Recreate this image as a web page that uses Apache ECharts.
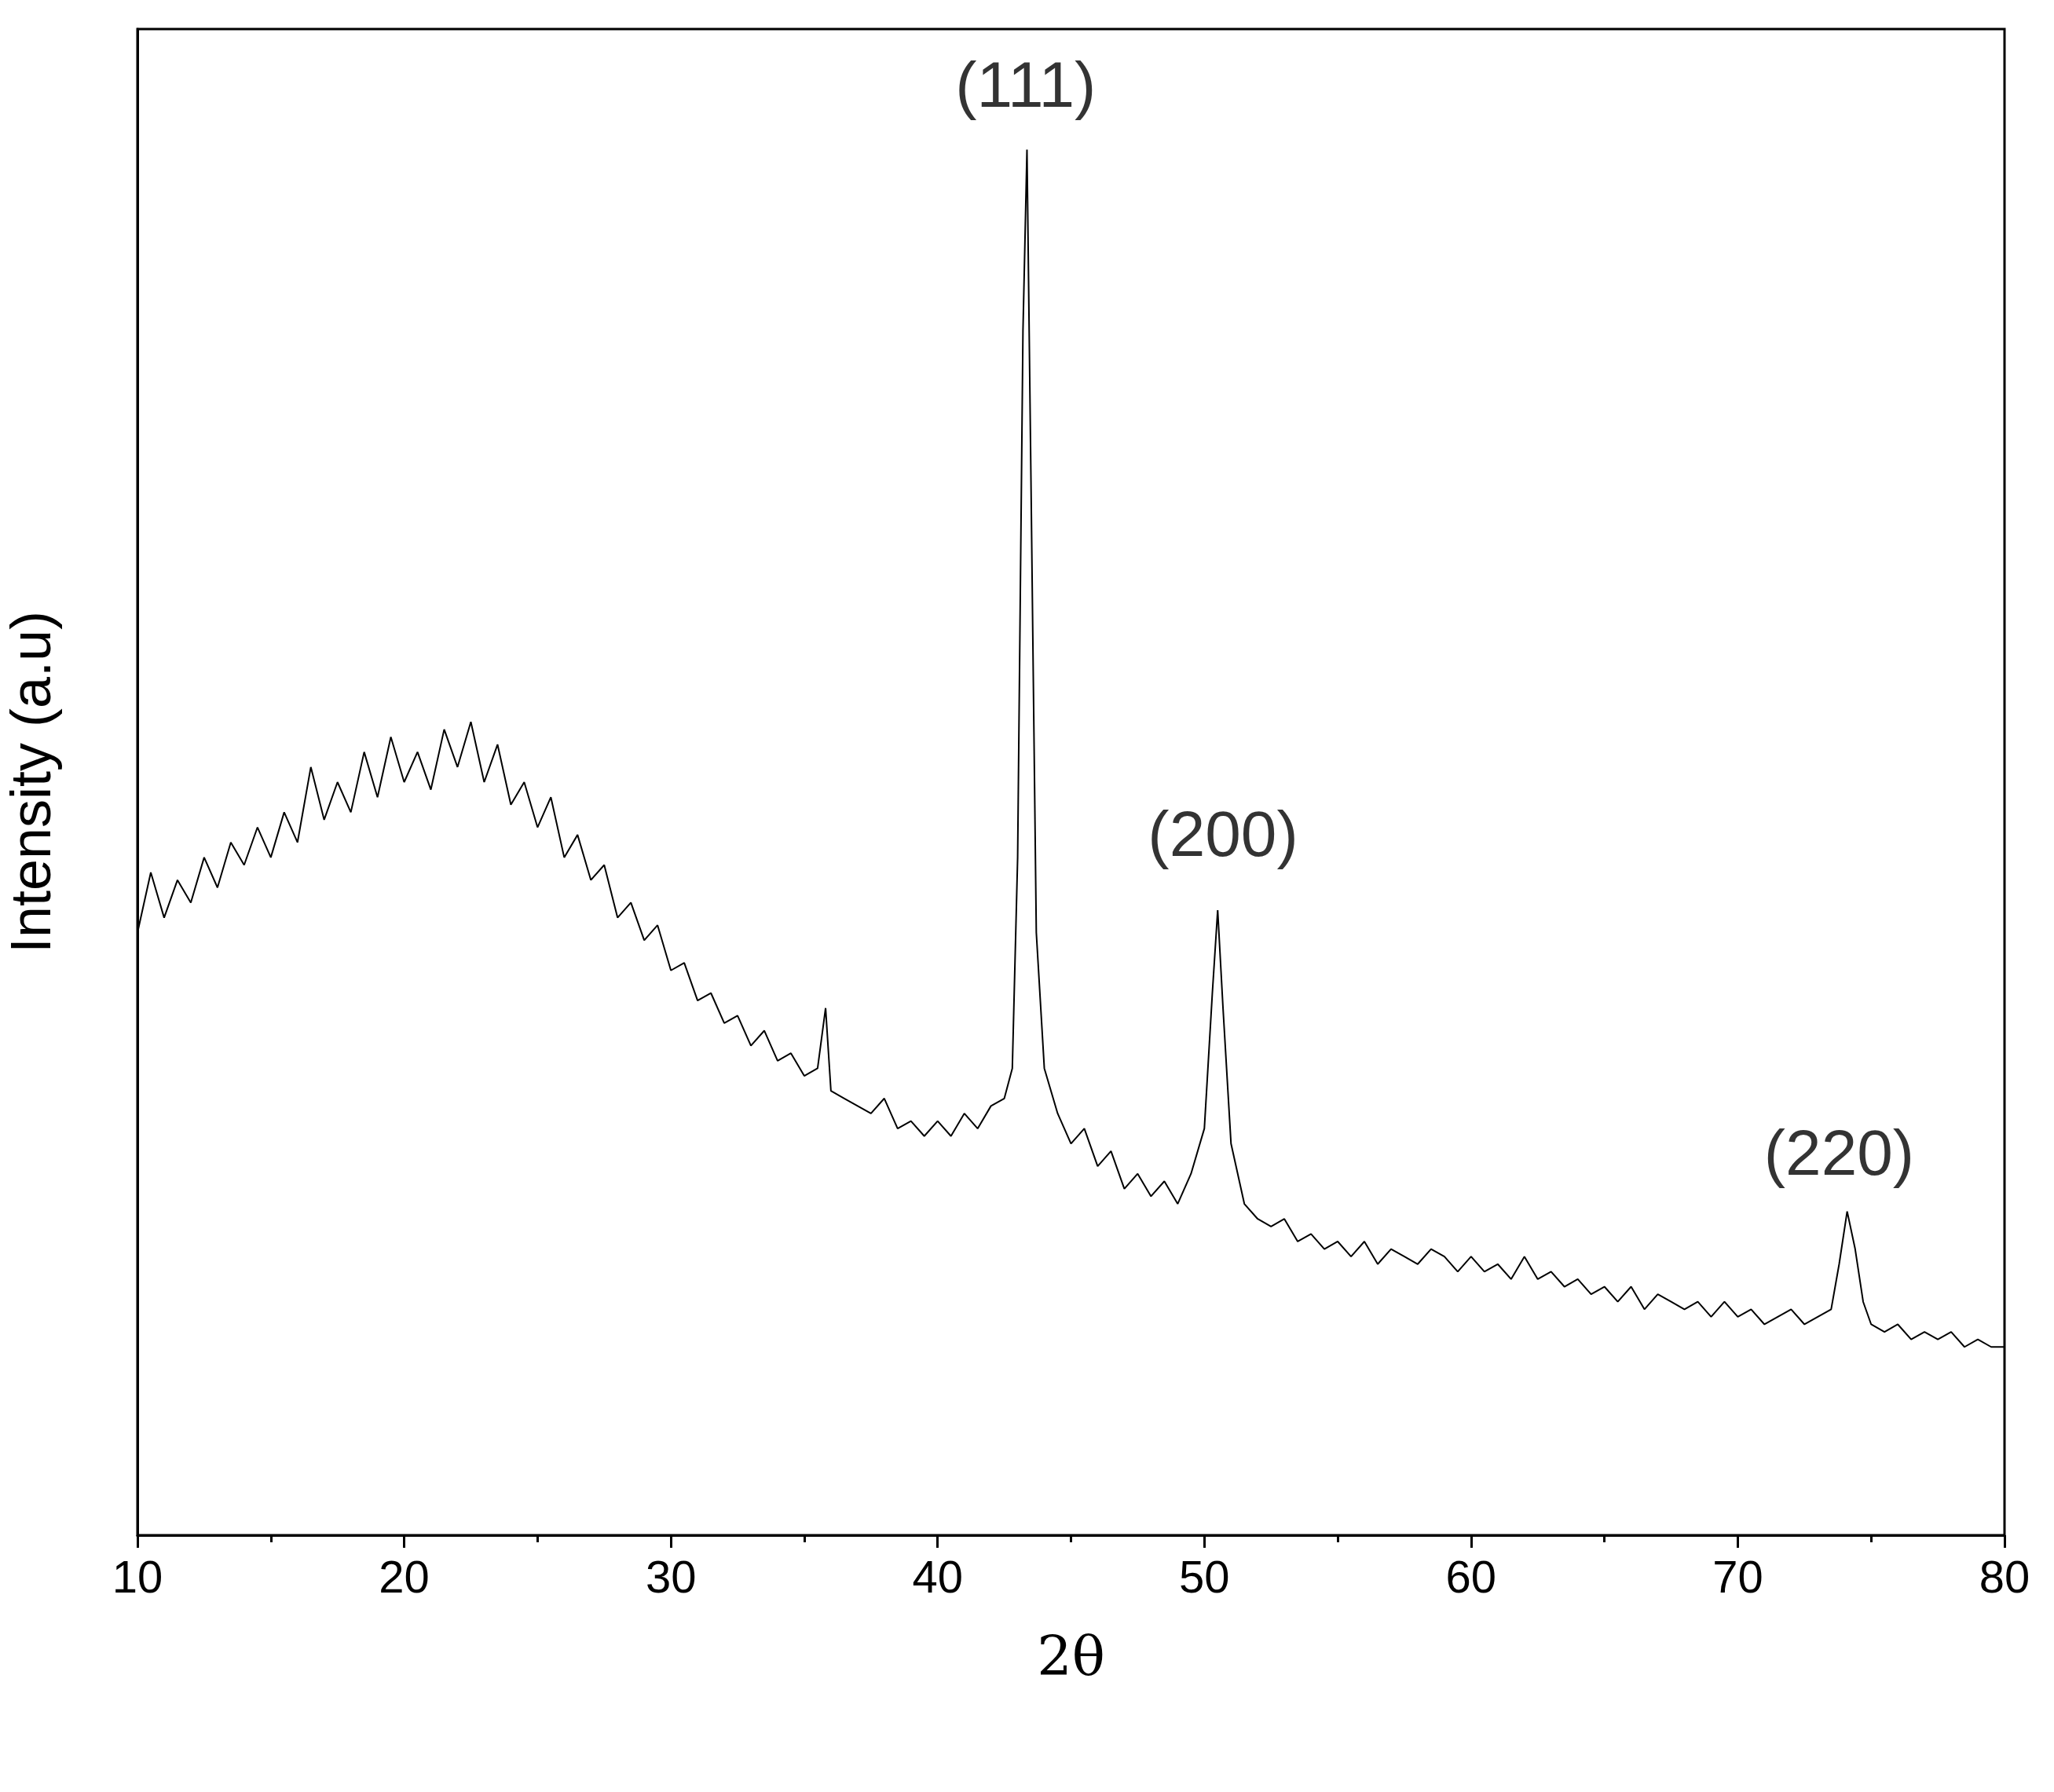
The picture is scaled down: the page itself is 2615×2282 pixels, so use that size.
<!DOCTYPE html>
<html>
<head>
<meta charset="utf-8">
<script src="https://cdn.jsdelivr.net/npm/echarts@6/dist/echarts.min.js"></script>
<style>html,body{margin:0;padding:0;background:#fff}#app{width:2615px;height:2282px}</style>
</head>
<body>
<div id="app"></div>
<script>
// 2θ positions and intensities
var angles = [10,10.5,11,11.5,12,12.5,13,13.5,14,14.5,15,15.5,16,16.5,17,17.5,18,18.5,19,19.5,20,20.5,21,21.5,22,22.5,23,23.5,24,24.5,25,25.5,26,26.5,27,27.5,28,28.5,29,29.5,30,30.5,31,31.5,32,32.5,33,33.5,34,34.5,35,35.5,35.8,36,36.5,37,37.5,38,38.5,39,39.5,40,40.5,41,41.5,42,42.5,42.8,43,43.2,43.35,43.5,43.7,44,44.5,45,45.5,46,46.5,47,47.5,48,48.5,49,49.5,50,50.3,50.5,50.7,51,51.5,52,52.5,53,53.5,54,54.5,55,55.5,56,56.5,57,57.5,58,58.5,59,59.5,60,60.5,61,61.5,62,62.5,63,63.5,64,64.5,65,65.5,66,66.5,67,67.5,68,68.5,69,69.5,70,70.5,71,71.5,72,72.5,73,73.5,73.8,74.1,74.4,74.7,75,75.5,76,76.5,77,77.5,78,78.5,79,79.5,80]
var intensity = [40,44,41,43.5,42,45,43,46,44.5,47,45,48,46,51,47.5,50,48,52,49,53,50,52,49.5,53.5,51,54,50,52.5,48.5,50,47,49,45,46.5,43.5,44.5,41,42,39.5,40.5,37.5,38,35.5,36,34,34.5,32.5,33.5,31.5,32,30.5,31,35,29.5,29,28.5,28,29,27,27.5,26.5,27.5,26.5,28,27,28.5,29,31,45,80,92,70,40,31,28,26,27,24.5,25.5,23,24,22.5,23.5,22,24,27,36,41.5,35,26,22,21,20.5,21,19.5,20,19,19.5,18.5,19.5,18,19,18.5,18,19,18.5,17.5,18.5,17.5,18,17,18.5,17,17.5,16.5,17,16,16.5,15.5,16.5,15,16,15.5,15,15.5,14.5,15.5,14.5,15,14,14.5,15,14,14.5,15,18,21.5,19,15.5,14,13.5,14,13,13.5,13,13.5,12.5,13,12.5,12.5]
var peakNames = ['(111)', '(200)', '(220)']
var peakSpots = [[43.3, 96], [50.7, 46.3], [73.8, 25.1]]

var chart = echarts.init(document.getElementById('app'))
var font = 'Liberation Sans, Arial, sans-serif'

chart.setOption({
    backgroundColor: '#fff',
    animation: false,
    grid: {left: 167, right: 63, top: 37, bottom: 327, show: true, borderColor: '#000', borderWidth: 3},
    xAxis: {
        type: 'value', min: 10, max: 80, interval: 10,
        name: '2θ', nameLocation: 'middle', nameGap: 125,
        nameTextStyle: {fontSize: 70, color: '#000', fontFamily: 'DejaVu Serif, serif'},
        axisLine: {lineStyle: {color: '#000', width: 3}},
        axisTick: {length: 16, lineStyle: {width: 3, color: '#000'}},
        minorTick: {show: true, splitNumber: 2, length: 9, lineStyle: {width: 3, color: '#000'}},
        axisLabel: {fontSize: 58, color: '#000', margin: 28, fontFamily: font},
        splitLine: {show: false}
    },
    yAxis: {
        type: 'value', min: 0, max: 100,
        name: 'Intensity (a.u)', nameLocation: 'middle', nameGap: 95,
        nameTextStyle: {fontSize: 72, color: '#000', fontFamily: font},
        axisLine: {show: true, lineStyle: {color: '#000', width: 3}},
        axisTick: {show: false}, axisLabel: {show: false}, splitLine: {show: false}
    },
    series: [{
        type: 'line', showSymbol: false,
        lineStyle: {color: '#000', width: 2},
        data: angles.map((a, i) => [a, intensity[i]])
    }, {
        type: 'scatter', symbolSize: 1,
        itemStyle: {color: 'rgba(0,0,0,0)'},
        label: {show: true, position: 'inside', fontSize: 82, color: '#000', fontFamily: font, formatter: (p) => p.name},
        data: peakNames.map((n, i) => ({name: n, value: peakSpots[i]}))
    }]
})
</script>
</body>
</html>
